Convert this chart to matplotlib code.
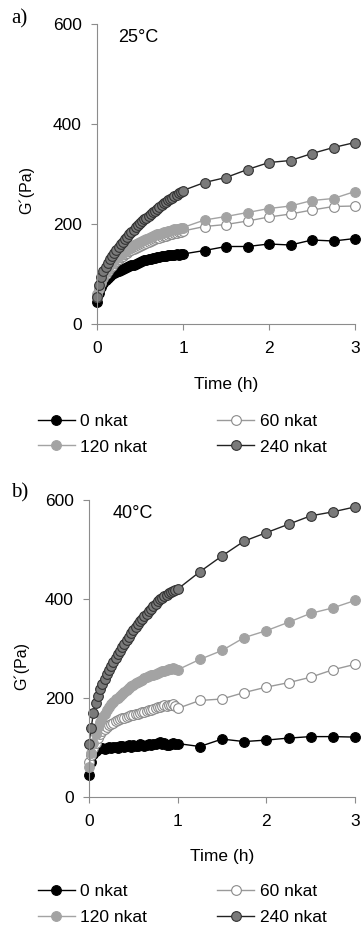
import numpy as np
import matplotlib
matplotlib.use('Agg')
import matplotlib.pyplot as plt

plt.rcParams['font.family'] = ['Liberation Sans', 'DejaVu Sans']

time = [0, 0.025, 0.05, 0.075, 0.1, 0.125, 0.15, 0.175, 0.2, 0.225, 0.25, 0.275,
        0.3, 0.325, 0.35, 0.375, 0.4, 0.425, 0.45, 0.475, 0.5, 0.525, 0.55, 0.575,
        0.6, 0.625, 0.65, 0.675, 0.7, 0.725, 0.75, 0.775, 0.8, 0.825, 0.85, 0.875,
        0.9, 0.925, 0.95, 0.975, 1.0, 1.25, 1.5, 1.75, 2.0, 2.25, 2.5, 2.75, 3.0]

labels = ['0 nkat', '60 nkat', '120 nkat', '240 nkat']

# a) 25 C
a_0 = [45, 62, 74, 82, 88, 93, 97, 100, 103, 105, 107, 109, 111, 112, 114, 116,
       118, 119, 121, 123, 125, 126, 128, 129, 130, 131, 132, 133, 134, 135, 136,
       136, 137, 138, 138, 139, 139, 140, 139, 140, 140,
       147, 155, 155, 160, 158, 168, 166, 171]
a_60 = [55, 70, 82, 92, 100, 107, 112, 117, 122, 126, 130, 134, 137, 140, 143, 146,
        148, 151, 153, 155, 157, 159, 161, 163, 165, 167, 169, 170, 172, 173, 175,
        176, 177, 179, 180, 181, 182, 183, 184, 185, 186,
        195, 199, 206, 214, 220, 228, 235, 236]
a_120 = [60, 74, 86, 97, 105, 112, 118, 123, 128, 132, 136, 140, 143, 146, 149, 152,
         155, 158, 160, 163, 165, 167, 169, 171, 173, 175, 177, 178, 180, 181, 182,
         184, 185, 186, 187, 188, 190, 190, 191, 192, 193,
         208, 215, 223, 231, 236, 247, 251, 265]
a_240 = [55, 78, 95, 106, 115, 123, 130, 136, 142, 148, 154, 160, 165, 170, 175, 180,
         185, 189, 194, 198, 202, 206, 210, 213, 217, 220, 224, 227, 231, 235, 238,
         242, 245, 248, 251, 253, 256, 259, 262, 264, 267,
         283, 293, 309, 323, 327, 341, 353, 363]

# b) 40 C
b_0 = [44, 70, 86, 93, 96, 98, 99, 97, 100, 101, 98, 102, 101, 100, 103, 104,
       102, 103, 105, 101, 106, 104, 103, 107, 105, 104, 106, 108, 105, 107, 108,
       110, 111, 108, 109, 106, 105, 108, 109, 107, 108,
       102, 117, 112, 115, 119, 122, 122, 121]
b_60 = [70, 84, 98, 110, 120, 127, 133, 138, 142, 145, 148, 150, 153, 155, 157, 159,
        160, 162, 163, 165, 166, 168, 168, 170, 171, 172, 173, 175, 176, 178, 179,
        181, 182, 184, 185, 184, 186, 185, 187, 183, 179,
        195, 198, 211, 222, 231, 242, 257, 268]
b_120 = [60, 88, 110, 127, 141, 152, 161, 168, 175, 181, 187, 192, 197, 201, 205, 209,
         213, 217, 221, 224, 227, 230, 233, 235, 237, 240, 242, 244, 246, 247, 249,
         251, 252, 254, 255, 256, 258, 259, 260, 258, 257,
         278, 296, 322, 336, 353, 371, 382, 397]
b_240 = [108, 140, 170, 190, 205, 218, 229, 239, 248, 257, 265, 273, 280, 288, 295, 303,
         310, 317, 324, 331, 337, 343, 349, 355, 360, 365, 370, 375, 380, 385, 390,
         395, 399, 403, 406, 409, 412, 414, 416, 418, 420,
         455, 487, 517, 534, 551, 568, 576, 586]

styles = [
    dict(color='black', mfc='black', mec='black'),
    dict(color='#9a9a9a', mfc='white', mec='#8a8a8a'),
    dict(color='#a3a3a3', mfc='#a3a3a3', mec='#a3a3a3'),
    dict(color='#222222', mfc='#7a7a7a', mec='#333333'),
]

fig = plt.figure(figsize=(3.61, 9.26), dpi=100)
FS = 12.5


def panel(rect, series, letter, temp, letter_xy, temp_xy, ylab_y, leg_y):
    ax = fig.add_axes(rect)
    lines = []
    for vals, lab, st in zip(series, labels, styles):
        ln, = ax.plot(time, vals, marker='o', ms=7, mew=0.8, lw=1.0,
                      label=lab, clip_on=False, **st)
        lines.append(ln)
    ax.set_xlim(0, 3)
    ax.set_ylim(0, 600)
    ax.set_xticks([0, 1, 2, 3])
    ax.set_yticks([0, 200, 400, 600])
    for s in ['top', 'right']:
        ax.spines[s].set_visible(False)
    for s in ['left', 'bottom']:
        ax.spines[s].set_color('#8c8c8c')
        ax.spines[s].set_linewidth(0.8)
    ax.tick_params(colors='#8c8c8c', labelcolor='black', labelsize=FS,
                   length=4, width=0.8)
    ax.tick_params(axis='x', pad=8)
    ax.tick_params(axis='y', pad=7)
    ax.set_xlabel('Time (h)', fontsize=FS, labelpad=15)
    ax.set_ylabel('G´(Pa)', fontsize=11.5)
    ax.yaxis.set_label_coords(ylab_y[0], ylab_y[1])
    fig.text(letter_xy[0], letter_xy[1], letter, family='Liberation Serif',
             fontsize=15, ha='left', va='center')
    fig.text(temp_xy[0], temp_xy[1], temp, fontsize=13, ha='left', va='center')
    order = [lines[0], lines[2], lines[1], lines[3]]
    fig.legend(order, [l.get_label() for l in order], ncol=2, frameon=False,
               loc='center left', bbox_to_anchor=(38/361, leg_y),
               fontsize=FS, handlelength=2.13, handletextpad=0.3,
               columnspacing=4.05, labelspacing=0.62, borderpad=0,
               borderaxespad=0)
    return ax


ax1 = panel([97/361, 1-324/926, 258/361, 300/926], [a_0, a_60, a_120, a_240],
            'a)', '25°C', (11/361, 1-19/926), (118/361, 1-38/926),
            (-0.245, 0.5 - 16/300), 1-434/926)
ax2 = panel([89/361, 1-797/926, 266/361, 297/926], [b_0, b_60, b_120, b_240],
            'b)', '40°C', (11/361, 1-493/926), (113/361, 1-514/926),
            (-0.225, 0.5 - 17/297), 1-904.5/926)

plt.savefig('out.png', dpi=100)
